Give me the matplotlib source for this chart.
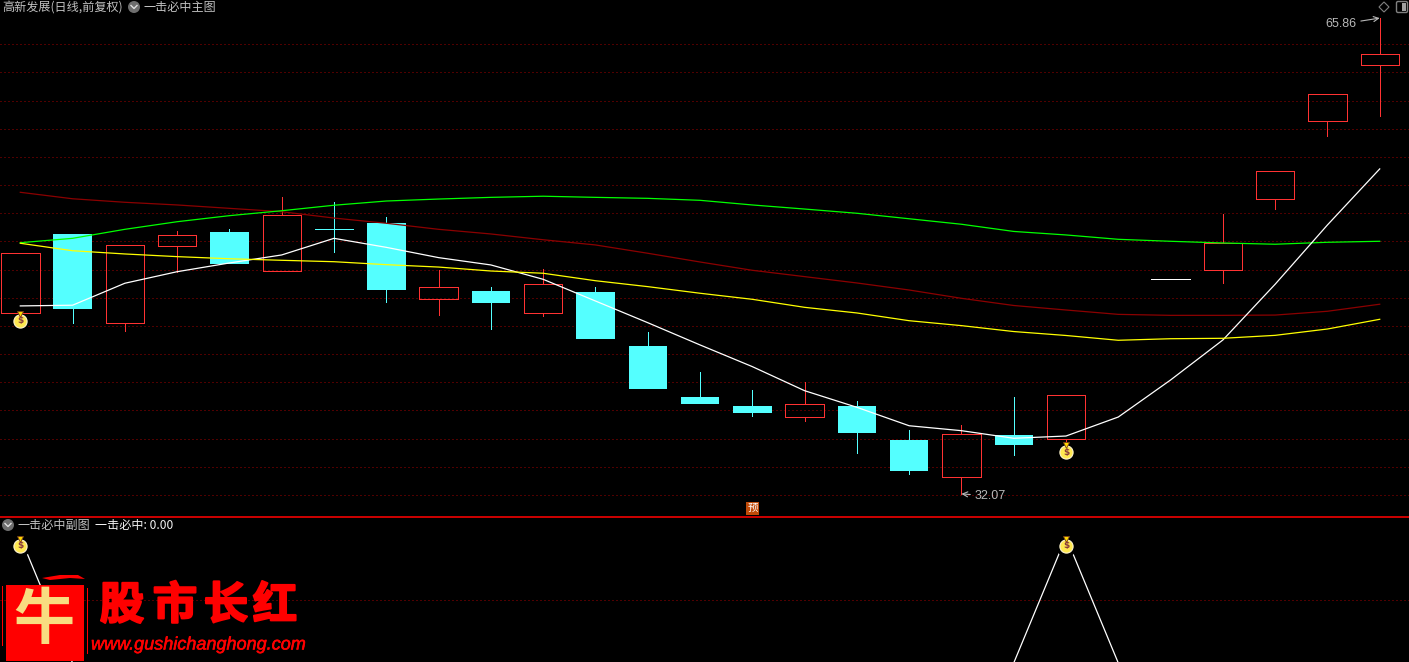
# -*- coding: utf-8 -*-
# K-line chart with a signal pane below it
import numpy as np
import matplotlib
matplotlib.use("Agg")
import matplotlib.pyplot as plt
import matplotlib.patheffects as pe
from matplotlib.patches import Rectangle, Circle, Polygon, FancyBboxPatch
from matplotlib.transforms import offset_copy

plt.rcParams['font.family'] = ['Noto Sans CJK SC', 'DejaVu Sans']

# daily candles, nan = nothing drawn that day
opens = [44.90, 50.53, 44.19, 49.66, 50.67, 47.88, 50.87, 51.31, 45.93, 46.48, 44.94, 46.41, 42.57, 38.95,
         38.31, 37.55, 38.31, 35.90, 33.29, 36.25, 35.99, np.nan, 47.31, 47.95, 52.99, 58.53, 62.51]
closes = [49.16, 45.22, 49.73, 50.44, 48.40, 51.86, 50.87, 46.55, 46.74, 45.63, 46.96, 43.07, 39.52, 38.46,
          37.82, 38.46, 36.39, 33.70, 36.30, 35.56, 39.07, np.nan, 47.31, 49.91, 54.98, 60.45, 63.29]
highs = [49.16, 50.53, 49.73, 50.74, 50.89, 53.16, 52.80, 51.74, 47.97, 46.76, 48.04, 46.76, 43.57, 40.73,
         39.45, 40.02, 38.67, 36.61, 36.96, 38.95, 39.07, np.nan, 47.31, 51.95, 54.98, 60.45, 65.86]
lows = [44.90, 44.23, 43.66, 47.81, 48.40, 47.88, 49.27, 45.70, 44.78, 43.78, 44.71, 43.07, 39.52, 38.46,
        37.60, 37.27, 34.97, 33.48, 32.07, 34.83, 35.61, np.nan, 47.31, 47.07, 52.31, 57.49, 58.93]

# moving lines
ma_white = [45.42, 45.47, 47.03, 47.85, 48.47, 49.04, 50.22, 49.58, 48.85, 48.33, 47.31, 45.77, 44.23, 42.65,
            41.11, 39.40, 38.22, 36.91, 36.56, 36.02, 36.18, 37.53, 40.16, 43.00, 46.96, 51.17, 55.15]
ma_green = [49.91, 50.22, 50.86, 51.40, 51.83, 52.18, 52.57, 52.87, 53.01, 53.13, 53.21, 53.13, 53.06, 52.92,
            52.59, 52.30, 52.00, 51.61, 51.22, 50.71, 50.46, 50.15, 50.01, 49.89, 49.80, 49.94, 50.01]
ma_darkred = [53.49, 53.03, 52.78, 52.59, 52.35, 52.11, 51.66, 51.29, 50.86, 50.53, 50.12, 49.75, 49.16, 48.54,
              47.95, 47.50, 47.05, 46.55, 45.96, 45.45, 45.13, 44.82, 44.75, 44.75, 44.77, 45.04, 45.54]
ma_yellow = [49.87, 49.34, 49.11, 48.92, 48.77, 48.66, 48.56, 48.35, 48.18, 47.90, 47.74, 47.21, 46.79, 46.32,
             45.89, 45.32, 44.92, 44.37, 44.02, 43.60, 43.32, 42.98, 43.09, 43.12, 43.33, 43.78, 44.47]

# signal pane
signal = [1, 0, 0, 0, 0, 0, 0, 0, 0, 0, 0, 0, 0, 0, 0, 0, 0, 0, 0, 0, 1, 0, 0, 0, 0, 0, 0]
signal_days = [0, 20]
bag_prices = [44.35, 35.04]

price_grid = list(range(32, 66, 2))
signal_grid = [0.5]
low_day, high_day = 18, 26

RED = '#FF3232'
CYAN = '#54FFFF'
GRID = '#A00000'
GREY = '#C0C0C0'
W = 1409
H = 662
px = 0.72  # one pixel in points at dpi 100

fig = plt.figure(figsize=(W / 100, H / 100), dpi=100, facecolor='black')
ax = fig.add_axes([0, (H - 516) / H, 1, 516 / H], facecolor='black')
ax2 = fig.add_axes([0, 0, 1, 145 / H], facecolor='black')
days = np.arange(len(opens))
for a in (ax, ax2):
    a.set_xlim(-0.388, 26.56)
    a.axis('off')
ax.set_ylim(30.50, 67.146)
ax2.set_ylim(0.008, 1.159)

for g in price_grid:
    ax.axhline(g, color=GRID, lw=px, ls=(0, (1, 3)), zorder=1)
for g in signal_grid:
    ax2.axhline(g, color=GRID, lw=px, ls=(0, (1, 3)), zorder=1)

# candles
width = 0.735
thin = dict(lw=px, antialiased=False, zorder=2)
for d, o, c, h, l in zip(days, opens, closes, highs, lows):
    if np.isnan(o):
        continue
    body_top = max(o, c)
    body_bot = min(o, c)
    if o == c:
        col = 'white' if d == 22 else CYAN
        ax.plot([d - width / 2, d + width / 2], [o, o], color=col, **thin)
        ax.plot([d, d], [l, h], color=col, **thin)
    elif c > o:
        if h > body_top:
            ax.plot([d, d], [body_top, h], color=RED, **thin)
        if l < body_bot:
            ax.plot([d, d], [l, body_bot], color=RED, **thin)
        ax.add_patch(Rectangle((d - width / 2, body_bot), width, body_top - body_bot, fc='none', ec=RED,
                               lw=px, antialiased=False, zorder=2))
    else:
        if h > body_top:
            ax.plot([d, d], [body_top, h], color=CYAN, **thin)
        if l < body_bot:
            ax.plot([d, d], [l, body_bot], color=CYAN, **thin)
        ax.add_patch(Rectangle((d - width / 2, body_bot), width, body_top - body_bot, fc=CYAN, ec='none', zorder=2))

ax.plot(days, ma_darkred, color='#8B0000', zorder=3, lw=0.9)
ax.plot(days, ma_green, color='#00FF00', zorder=3, lw=0.9)
ax.plot(days, ma_white, color='white', zorder=4, lw=0.9)
ax.plot(days, ma_yellow, color='#FFFF00', zorder=5, lw=0.9)

ax2.plot(days, signal, color='white', zorder=3, lw=0.9)


def money_bag(a, x, y, halo=False):
    # little gold sack, sized in pixels
    neck = offset_copy(a.transData, fig=fig, x=0, y=7, units='dots')
    if halo:
        a.plot([x], [y], 'o', ms=15, mfc='black', mec='none', zorder=7)
    a.plot([x], [y], 'o', ms=9.5, mfc='#FFE850', mec='#FFF4D0', mew=0.8, zorder=8)
    a.plot([x], [y], marker='v', ms=4.5, mfc='#FFD800', mec='#7A4018', mew=0.6, zorder=8, transform=neck)
    a.text(x, y, '$', color='#8A3A3A', fontsize=6.5, fontweight='bold', ha='center', va='center',
           family='DejaVu Sans', zorder=9)


for d, p in zip(signal_days, bag_prices):
    money_bag(ax, d, p)
    money_bag(ax2, d, 0.93, halo=True)

# highest / lowest labels
ax.annotate('65.86', xy=(high_day, highs[high_day]), xytext=(-23, -6), textcoords='offset pixels',
            color='#B8B8B8', fontsize=9, ha='right', va='center', family='Liberation Sans',
            arrowprops=dict(arrowstyle='->', color='#B8B8B8', lw=0.8, shrinkA=1, shrinkB=0))
ax.annotate('32.07', xy=(low_day, lows[low_day]), xytext=(13, -2), textcoords='offset pixels',
            color='#B8B8B8', fontsize=9, ha='left', va='center', family='Liberation Sans',
            arrowprops=dict(arrowstyle='->', color='#B8B8B8', lw=0.8, shrinkA=1, shrinkB=0))

# everything that sits on top of the chart, in screen pixels
top = fig.add_axes([0, 0, 1, 1], facecolor='none', zorder=10)
top.set_xlim(0, W)
top.set_ylim(H, 0)
top.axis('off')

top.plot([0, W], [516.5, 516.5], color='#C80000', lw=1.1, antialiased=False)


def chevron(x, y):
    top.add_patch(Circle((x, y), 6, fc='#6E6E6E', ec='none'))
    top.plot([x - 3, x, x + 3], [y - 1.5, y + 1.5, y - 1.5], color='#E0E0E0', lw=1.0)


top.text(2, 7, '高新发展(日线,前复权)', color=GREY, fontsize=8.7, va='center', ha='left')
chevron(134, 7)
top.text(143, 7, '一击必中主图', color=GREY, fontsize=8.7, va='center', ha='left')
chevron(8, 525)
top.text(17, 525, '一击必中副图', color=GREY, fontsize=8.7, va='center', ha='left')
top.text(95, 525, '一击必中: 0.00', color='#F0F0F0', fontsize=8.7, va='center', ha='left')

# diamond and panel button at the top right
top.add_patch(Polygon([(1384, 2), (1389, 7), (1384, 12), (1379, 7)], fc='none', ec='#808080', lw=0.8))
top.add_patch(FancyBboxPatch((1398, 3), 8, 8, boxstyle='round,pad=1.5', fc='none', ec='#808080', lw=1.0))
top.add_patch(Rectangle((1402, 3), 4, 8, fc='#A0A0A0', ec='none'))

# forecast tag
top.add_patch(Rectangle((746, 502), 13, 13, fc='#C04A08', ec='none'))
top.text(752.5, 508, '预', color='white', fontsize=7.5, ha='center', va='center')

# watermark logo
LOGO = '#FF0000'
top.add_patch(Rectangle((6, 585), 78, 76, fc=LOGO, ec='none', zorder=5))
top.add_patch(Polygon([(42, 578), (60, 575), (78, 575), (85, 579), (70, 578), (50, 580)], fc=LOGO, ec='none', zorder=5))
top.add_patch(Rectangle((86.5, 588), 1.5, 66, fc=LOGO, ec='none', zorder=5))
top.add_patch(Rectangle((1.5, 586), 1.5, 60, fc=LOGO, ec='none', zorder=5))
top.text(44, 621, '牛', color='#F8DC80', fontsize=44, fontweight='bold', ha='center', va='center', zorder=6)
for ch, x in zip('股市长红', [122, 175, 226, 275]):
    top.text(x, 606, ch, color=LOGO, fontsize=32, fontweight='bold', ha='center', va='center', zorder=6,
             path_effects=[pe.withStroke(linewidth=1.5, foreground=LOGO)])
top.text(91, 645, 'www.gushichanghong.com', color=LOGO, fontsize=13, style='italic',
         family='Liberation Sans', ha='left', va='center', zorder=6,
         path_effects=[pe.withStroke(linewidth=0.4, foreground=LOGO)])

fig.savefig('out.png', dpi=100, facecolor='black')
